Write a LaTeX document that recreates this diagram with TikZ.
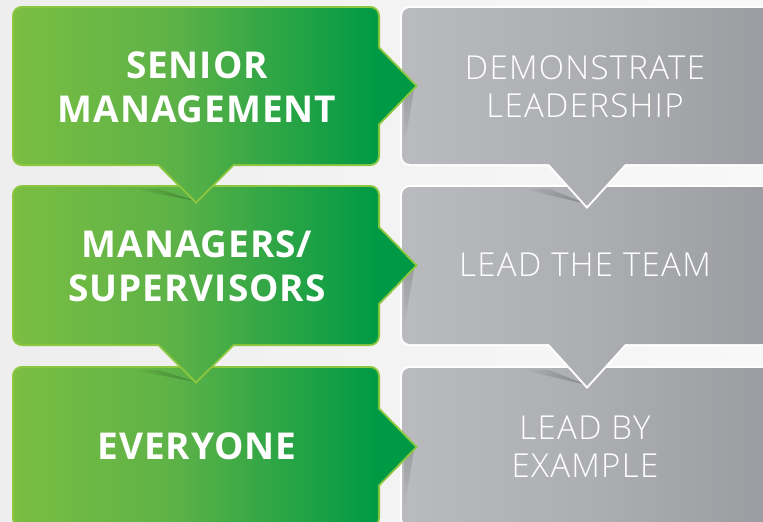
\documentclass[tikz,border=0pt]{standalone}
\usepackage{fontspec}
\setmainfont{Open Sans}
\newfontfamily\lightf{Open Sans Light}[LetterSpace=4]
\newfontfamily\boldf{Open Sans Bold}[LetterSpace=2.5]
\usetikzlibrary{fadings}
\definecolor{gA}{HTML}{8DC63F}
\definecolor{gB}{HTML}{5DB247}
\definecolor{gC}{HTML}{009A44}
\definecolor{gD}{HTML}{00923F}
\definecolor{gborder}{HTML}{8DC63F}
\definecolor{yA}{HTML}{C6C7CB}
\definecolor{yB}{HTML}{ADAEB2}
\definecolor{yC}{HTML}{88898E}
\definecolor{bgA}{HTML}{EEEEEE}
\definecolor{bgB}{HTML}{F8F8F8}
\pgfdeclarehorizontalshading{gshade}{100bp}{color(0bp)=(gA); color(12bp)=(gA); color(45bp)=(gB); color(70bp)=(gC); color(100bp)=(gD)}
\pgfdeclarehorizontalshading{yshade}{100bp}{color(0bp)=(yA); color(50bp)=(yB); color(100bp)=(yC)}
\tikzfading[name=fadein, left color=transparent!100, right color=transparent!20]
\tikzfading[name=fadedown, top color=transparent!30, bottom color=transparent!100]
% green box: #1 top, #2 bottom, #3 depth of down arrow
\newcommand\gbox[3]{%
  \pgfmathsetmacro\ym{(#1+#2)/2}%
  \draw[gline, rounded corners=8pt] (14,#1) rectangle (378,#2);
  \draw[gline] (378,\ym-38) -- (415,\ym) -- (378,\ym+38);
  \draw[gline] (159,#2) -- (196,#2+#3) -- (233,#2);
  \shade[shading=gshade] [rounded corners=8pt] (14,#1) rectangle (378,#2)
    [sharp corners] (378,\ym-38) -- (415,\ym) -- (378,\ym+38) -- cycle
    (159,#2) -- (196,#2+#3) -- (233,#2) -- cycle;
}
% gray box
\newcommand\ybox[3]{%
  \draw[yline, rounded corners=8pt] (402,#1) rectangle (775,#2);
  \draw[yline] (549,#2) -- (587,#2+#3) -- (625,#2);
  \shade[shading=yshade] [rounded corners=8pt] (402,#1) rectangle (775,#2)
    [sharp corners] (549,#2) -- (587,#2+#3) -- (625,#2) -- cycle;
}
\begin{document}
\begin{tikzpicture}[x=1pt,y=-1pt,
  gline/.style={line width=4pt, draw=gborder, line join=miter},
  yline/.style={line width=4pt, draw=white, line join=miter},
  gtext/.style={text=white, font=\boldf\fontsize{37}{44}\selectfont, align=center, inner sep=0pt},
  ytext/.style={text=white, font=\lightf\fontsize{33}{38}\selectfont, align=center, inner sep=0pt},
  wedge/.style={fill=black, opacity=.3, path fading=fadein},
  sidesh/.style={fill=black, opacity=.22, path fading=fadedown}]
\useasboundingbox (0,0) rectangle (763,522);
\clip (0,0) rectangle (763,522);
\shade[left color=bgA, right color=bgB] (0,0) rectangle (763,522);
% gray column
\ybox{368}{526}{0}
\fill[wedge] (523,370) -- (549,370) -- (587,385) -- cycle;
\ybox{187}{344}{42}
\fill[wedge] (523,189) -- (549,189) -- (587,204) -- cycle;
\ybox{8}{164}{42}
% shadows of green arrows on gray
\foreach \c in {86,266,447}{
  \fill[sidesh] (404,\c+2) -- (414,\c+4) -- (404,\c+62) -- cycle;
}
% green column
\gbox{368}{526}{0}
\fill[wedge] (133,370) -- (159,370) -- (196,382) -- cycle;
\gbox{187}{344}{37}
\fill[wedge] (133,189) -- (159,189) -- (196,201) -- cycle;
\gbox{8}{164}{37}
% texts
\node[gtext] (sm) at (197,87.5) {SENIOR\\MANAGEMENT};
\node[gtext] (ms) at (197,266) {MANAGERS/\\SUPERVISORS};
\node[gtext] (ev) at (197,446) {EVERYONE};
\node[ytext] (dl) at (585,87) {DEMONSTRATE\\LEADERSHIP};
\node[ytext] (lt) at (585,265) {LEAD THE TEAM};
\node[ytext] (le) at (585,447) {LEAD BY\\EXAMPLE};
\end{tikzpicture}
\end{document}
